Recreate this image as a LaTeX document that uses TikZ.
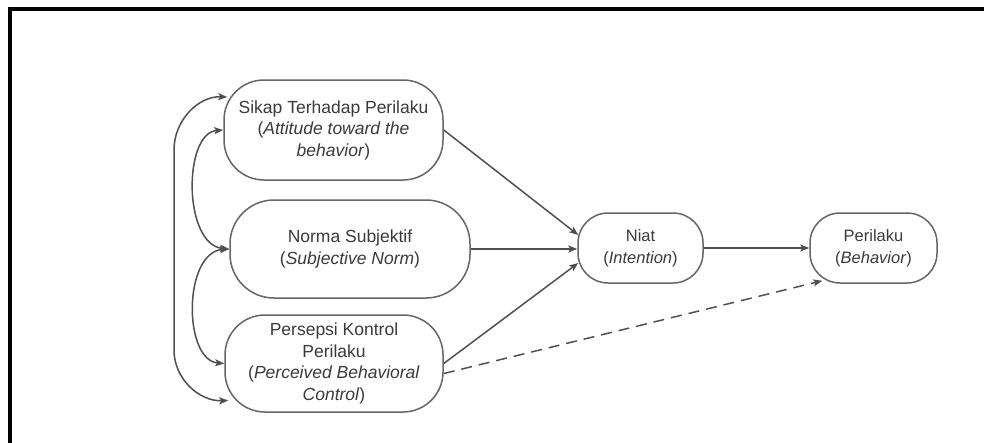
\documentclass[tikz,border=0pt]{standalone}
\usepackage{fontspec}
\setmainfont{Liberation Sans}
\usetikzlibrary{arrows.meta,calc}
\definecolor{edgegray}{HTML}{505050}
\definecolor{boxgray}{HTML}{666666}
\definecolor{txtgray}{HTML}{3A3A3A}
\begin{document}
\begin{tikzpicture}[x=1pt,y=-1pt,
  >={Stealth[length=9pt,width=7pt,inset=2pt,fill=black!85]},
  concept/.style={draw=boxgray, line width=1.5pt, rounded corners=40pt,
    inner sep=0pt, align=center, text=txtgray,
    font=\fontsize{17.5}{21.5}\selectfont},
  smallconcept/.style={concept, rounded corners=30pt,
    font=\fontsize{16.5}{21.5}\selectfont},
  link/.style={draw=edgegray, line width=1.5pt, ->},
  bilink/.style={draw=edgegray, line width=1.5pt, <->}
]
\useasboundingbox (0,0) rectangle (984,442);
\fill[white] (0,0) rectangle (984,442);

% outer frame
\draw[line width=4pt] (10,460) -- (10,9) -- (1000,9);

% constructs
\node[concept, minimum width=219pt, minimum height=100pt] (sikap) at (333.5,130)
  {Sikap Terhadap Perilaku\\(\textit{Attitude toward the}\\\textit{behavior})};
\node[concept, rounded corners=44pt, minimum width=240pt, minimum height=98pt] (norma) at (350,249)
  {Norma Subjektif\\(\textit{Subjective Norm})};
\node[concept, minimum width=218pt, minimum height=97pt] (persepsi) at (334,363.5)
  {Persepsi Kontrol\\Perilaku\\(\textit{Perceived Behavioral}\\\textit{Control})};
\node[smallconcept, minimum width=125pt, minimum height=70pt] (niat) at (640.5,248)
  {Niat\\(\textit{Intention})};
\node[smallconcept, minimum width=127pt, minimum height=70pt] (perilaku) at (873.5,248)
  {Perilaku\\(\textit{Behavior})};

% anchor points on the rounded borders
\coordinate (sikapTop) at ($(sikap.west)+(4,-33)$);
\coordinate (persepsiBot) at ($(persepsi.west)+(4,37)$);
\coordinate (niatIn1) at ($(niat.west)+(1,-13)$);
\coordinate (niatIn3) at ($(niat.west)+(1,15)$);
\coordinate (persepsiOut) at ($(persepsi.east)+(0,10)$);
\coordinate (perilakuIn) at ($(perilaku.south west)+(13,-3)$);

% correlations among the antecedents
\draw[bilink] (sikapTop) to[out=178,in=90] (174,150) -- (174,350)
  to[out=-90,in=182] (persepsiBot);
\draw[bilink] (sikap.west) .. controls (183,133) and (183,245) .. (norma.west);
\draw[bilink] (norma.west) .. controls (183,252) and (183,360) .. (persepsi.west);

% paths to intention and behaviour
\draw[link] (sikap.east) -- (niatIn1);
\draw[link] (norma.east) -- (norma.east -| niat.west);
\draw[link] (persepsi.east) -- (niatIn3);
\draw[link] (niat.east) -- (perilaku.west);
\draw[link, dash pattern=on 11pt off 7pt] (persepsiOut) -- (perilakuIn);
\end{tikzpicture}
\end{document}
